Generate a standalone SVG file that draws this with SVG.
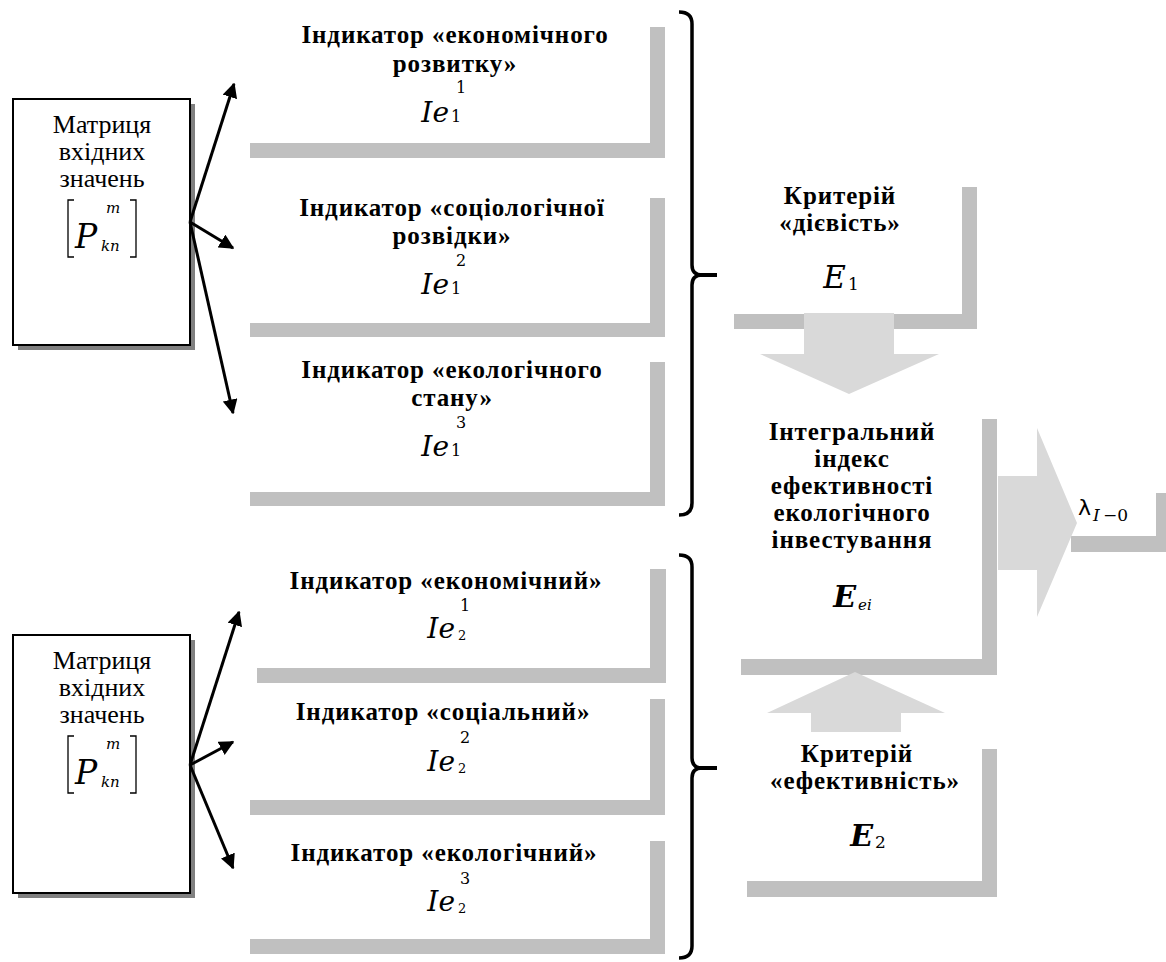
<svg xmlns="http://www.w3.org/2000/svg" width="1166" height="962" viewBox="0 0 1166 962">
  <defs>
    <marker id="ah" viewBox="0 0 10 10" refX="9" refY="5" markerWidth="5" markerHeight="5" orient="auto" markerUnits="strokeWidth">
      <path d="M0,0 L10,5 L0,10 z" fill="#000"/>
    </marker>
  </defs>
  <rect width="1166" height="962" fill="#fff"/>

  <!-- input matrix, upper -->
  <g id="matrix1">
    <rect x="18" y="104" width="177" height="246" fill="#808080"/>
    <rect x="13" y="99" width="177" height="246" fill="#fff" stroke="#000" stroke-width="2"/>
    <text font-family="Liberation Serif" font-size="26" text-anchor="middle" x="102" y="133">Матриця</text>
    <text font-family="Liberation Serif" font-size="26" text-anchor="middle" x="102" y="160">вхідних</text>
    <text font-family="Liberation Serif" font-size="26" text-anchor="middle" x="102" y="187">значень</text>
    <path d="M74,200 H68 V257 H74 M130,200 H136 V257 H130" stroke="#000" stroke-width="1.3" fill="none"/>
    <text font-family="DejaVu Serif" font-style="italic" font-size="33" x="75" y="248">P</text>
    <text font-family="DejaVu Serif" font-style="italic" font-size="15" x="101" y="251">kn</text>
    <text font-family="DejaVu Serif" font-style="italic" font-size="15" x="106" y="213">m</text>
  </g>

  <!-- input matrix, lower -->
  <g id="matrix2">
    <rect x="18" y="640" width="177" height="258" fill="#808080"/>
    <rect x="13" y="635" width="177" height="258" fill="#fff" stroke="#000" stroke-width="2"/>
    <text font-family="Liberation Serif" font-size="26" text-anchor="middle" x="102" y="669">Матриця</text>
    <text font-family="Liberation Serif" font-size="26" text-anchor="middle" x="102" y="696">вхідних</text>
    <text font-family="Liberation Serif" font-size="26" text-anchor="middle" x="102" y="723">значень</text>
    <path d="M74,736 H68 V793 H74 M130,736 H136 V793 H130" stroke="#000" stroke-width="1.3" fill="none"/>
    <text font-family="DejaVu Serif" font-style="italic" font-size="33" x="75" y="784">P</text>
    <text font-family="DejaVu Serif" font-style="italic" font-size="15" x="101" y="787">kn</text>
    <text font-family="DejaVu Serif" font-style="italic" font-size="15" x="106" y="749">m</text>
  </g>

  <!-- indicators, group 1 -->
  <g id="ind11">
    <path d="M650,27 H665 V158 H250 V143 H650 Z" fill="#c0c0c0"/>
    <text font-family="Liberation Serif" font-weight="bold" font-size="25" letter-spacing="0.9" text-anchor="middle" x="455" y="43">Індикатор «економічного</text>
    <text font-family="Liberation Serif" font-weight="bold" font-size="25" letter-spacing="0.9" text-anchor="middle" x="455" y="72">розвитку»</text>
    <text font-family="DejaVu Serif" font-style="italic" font-size="28" text-anchor="end" x="449" y="122">Ie</text>
    <text font-family="DejaVu Serif" font-size="16" x="451" y="122">1</text>
    <text font-family="DejaVu Serif" font-size="16" x="456" y="93">1</text>
  </g>
  <g id="ind12">
    <path d="M650,198 H665 V337 H250 V323 H650 Z" fill="#c0c0c0"/>
    <text font-family="Liberation Serif" font-weight="bold" font-size="25" letter-spacing="0.9" text-anchor="middle" x="452" y="216">Індикатор «соціологічної</text>
    <text font-family="Liberation Serif" font-weight="bold" font-size="25" letter-spacing="0.9" text-anchor="middle" x="452" y="244">розвідки»</text>
    <text font-family="DejaVu Serif" font-style="italic" font-size="28" text-anchor="end" x="449" y="294">Ie</text>
    <text font-family="DejaVu Serif" font-size="16" x="451" y="294">1</text>
    <text font-family="DejaVu Serif" font-size="16" x="456" y="266">2</text>
  </g>
  <g id="ind13">
    <path d="M650,362 H665 V506 H250 V492 H650 Z" fill="#c0c0c0"/>
    <text font-family="Liberation Serif" font-weight="bold" font-size="25" letter-spacing="0.9" text-anchor="middle" x="452" y="378">Індикатор «екологічного</text>
    <text font-family="Liberation Serif" font-weight="bold" font-size="25" letter-spacing="0.9" text-anchor="middle" x="452" y="406">стану»</text>
    <text font-family="DejaVu Serif" font-style="italic" font-size="28" text-anchor="end" x="449" y="456">Ie</text>
    <text font-family="DejaVu Serif" font-size="16" x="451" y="456">1</text>
    <text font-family="DejaVu Serif" font-size="16" x="456" y="428">3</text>
  </g>

  <!-- indicators, group 2 -->
  <g id="ind21">
    <path d="M650,569 H666 V683 H257 V668 H650 Z" fill="#c0c0c0"/>
    <text font-family="Liberation Serif" font-weight="bold" font-size="25" letter-spacing="0.9" text-anchor="middle" x="446" y="589">Індикатор «економічний»</text>
    <text font-family="DejaVu Serif" font-style="italic" font-size="28" text-anchor="end" x="455" y="638">Ie</text>
    <text font-family="DejaVu Serif" font-size="13" x="458" y="640">2</text>
    <text font-family="DejaVu Serif" font-size="16" x="460" y="611">1</text>
  </g>
  <g id="ind22">
    <path d="M650,699 H665 V815 H250 V800 H650 Z" fill="#c0c0c0"/>
    <text font-family="Liberation Serif" font-weight="bold" font-size="25" letter-spacing="0.9" text-anchor="middle" x="443" y="720">Індикатор «соціальний»</text>
    <text font-family="DejaVu Serif" font-style="italic" font-size="28" text-anchor="end" x="455" y="771">Ie</text>
    <text font-family="DejaVu Serif" font-size="13" x="458" y="773">2</text>
    <text font-family="DejaVu Serif" font-size="16" x="460" y="743">2</text>
  </g>
  <g id="ind23">
    <path d="M650,841 H665 V954 H250 V939 H650 Z" fill="#c0c0c0"/>
    <text font-family="Liberation Serif" font-weight="bold" font-size="25" letter-spacing="0.9" text-anchor="middle" x="444" y="861">Індикатор «екологічний»</text>
    <text font-family="DejaVu Serif" font-style="italic" font-size="28" text-anchor="end" x="455" y="911">Ie</text>
    <text font-family="DejaVu Serif" font-size="13" x="458" y="913">2</text>
    <text font-family="DejaVu Serif" font-size="16" x="460" y="884">3</text>
  </g>

  <!-- criteria and result -->
  <g id="crit1">
    <path d="M962,187 H977 V329 H734 V314 H962 Z" fill="#c0c0c0"/>
    <text font-family="Liberation Serif" font-weight="bold" font-size="25" letter-spacing="0.9" text-anchor="middle" x="840" y="204">Критерій</text>
    <text font-family="Liberation Serif" font-weight="bold" font-size="25" letter-spacing="0.9" text-anchor="middle" x="840" y="231">«дієвість»</text>
    <text font-family="DejaVu Serif" font-style="italic" font-size="31" text-anchor="end" x="846" y="288">E</text>
    <text font-family="DejaVu Serif" font-size="17" x="848" y="290">1</text>
  </g>
  <g id="integral">
    <path d="M982,419 H997 V675 H741 V659 H982 Z" fill="#c0c0c0"/>
    <text font-family="Liberation Serif" font-weight="bold" font-size="25" letter-spacing="0.9" text-anchor="middle" x="852" y="440">Інтегральний</text>
    <text font-family="Liberation Serif" font-weight="bold" font-size="25" letter-spacing="0.9" text-anchor="middle" x="852" y="467">індекс</text>
    <text font-family="Liberation Serif" font-weight="bold" font-size="25" letter-spacing="0.9" text-anchor="middle" x="852" y="494">ефективності</text>
    <text font-family="Liberation Serif" font-weight="bold" font-size="25" letter-spacing="0.9" text-anchor="middle" x="852" y="521">екологічного</text>
    <text font-family="Liberation Serif" font-weight="bold" font-size="25" letter-spacing="0.9" text-anchor="middle" x="852" y="548">інвестування</text>
    <text font-family="DejaVu Serif" font-style="italic" font-weight="bold" font-size="30" text-anchor="end" x="856" y="607">E</text>
    <text font-family="DejaVu Serif" font-style="italic" font-size="15" x="858" y="610">ei</text>
  </g>
  <g id="crit2">
    <path d="M982,749 H997 V897 H747 V881 H982 Z" fill="#c0c0c0"/>
    <text font-family="Liberation Serif" font-weight="bold" font-size="25" letter-spacing="0.9" text-anchor="middle" x="857" y="762">Критерій</text>
    <text font-family="Liberation Serif" font-weight="bold" font-size="25" letter-spacing="0.9" text-anchor="middle" x="865" y="789">«ефективність»</text>
    <text font-family="DejaVu Serif" font-style="italic" font-weight="bold" font-size="30" text-anchor="end" x="873" y="846">E</text>
    <text font-family="DejaVu Serif" font-size="17" x="875" y="848">2</text>
  </g>
  <g id="lambda">
    <path d="M1156,493 H1166 V552 H1071 V536 H1156 Z" fill="#c0c0c0"/>
    <text font-family="DejaVu Sans" font-size="22" x="1078" y="515">λ</text>
    <text font-family="DejaVu Serif" font-style="italic" font-size="17" x="1093" y="521">I</text>
    <text font-family="DejaVu Serif" font-size="17" x="1103" y="521">−0</text>
  </g>

  <!-- connectors -->
  <g id="connectors" stroke="#000" fill="none">
    <g stroke-width="3" marker-end="url(#ah)">
      <line x1="190" y1="222" x2="234" y2="84"/>
      <line x1="190" y1="222" x2="233" y2="248"/>
      <line x1="190" y1="222" x2="233" y2="413"/>
      <line x1="190" y1="765" x2="239" y2="612"/>
      <line x1="190" y1="765" x2="233" y2="742"/>
      <line x1="190" y1="765" x2="233" y2="868"/>
    </g>

    <path stroke-width="3.5" d="M679,12 Q692,12 692,24 V265 Q692,275 702,275 Q692,275 692,285 V503 Q692,515 679,515"/>
    <line x1="700" y1="275" x2="717" y2="275" stroke-width="4"/>
    <path stroke-width="3.5" d="M679,555 Q692,555 692,567 V758 Q692,768 702,768 Q692,768 692,778 V946 Q692,958 679,958"/>
    <line x1="700" y1="768" x2="717" y2="768" stroke-width="4"/>

    <g stroke="none" fill="#d9d9d9">
      <path d="M804,313 H894 V354 H939 L849,394 L760,354 H804 Z"/>
      <path d="M811,732 H901 V713 H945 L855,672 L767,713 H811 Z"/>
      <path d="M998,476 H1037 V428 L1077,523 L1037,617 V570 H998 Z"/>
    </g>
  </g>
</svg>
